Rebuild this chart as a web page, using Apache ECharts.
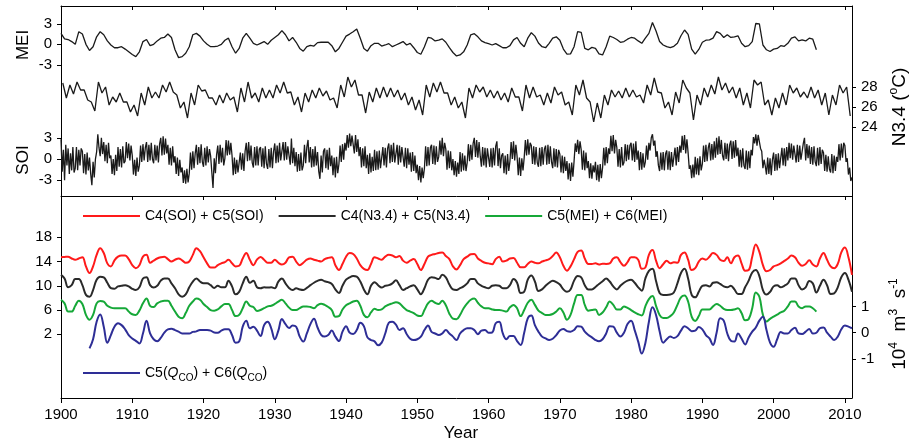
<!DOCTYPE html>
<html>
<head>
<meta charset="utf-8">
<script src="https://cdn.jsdelivr.net/npm/echarts@6/dist/echarts.min.js"></script>
<style>
html,body{margin:0;padding:0;background:#fff}
#chart{width:914px;height:444px}
</style>
</head>
<body>
<div id="chart"></div>
<script>
// ---- x axis ----
const yearMin = 1900, yearMax = 2011, yearStep = 10;

// ---- upper panel: index time series ----
// MEI, half-year steps from 1900.0
const meiStart = 1900, meiStep = 0.5;
const mei = [
1.6,0.8, 0.7,0.4, 0,1.85, 1.5,0, -0.9,-0.35, 1.1,1.85, 1.4,0.5, -0.1,-0.5, -0.5,-0.35, -0.7,-1.1,
-1.5,-1.8, -1.1,0.4, 0.7,-0.2, 0,0.5, 0.9,1.0, 1.5,1.0, -0.8,-1.95, -1.8,-1.3, -0.35,1.4, 1.6,1.2,
0.5,0, -0.35,-0.35, -0.25,0, 0.6,0.9, -0.35,-1.3, -0.6,0.9, 1.6,0.9, 0.15,-0.1, 0.15,0.4, 0,0.6,
1.0,1.4, 2.0,1.4, 0.5,1.0, 0.3,-0.6, -1.0,-0.35, -0.15,-0.25, 0.25,0.3, 0.3,0.3, -0.2,-1.1, -0.6,0.3,
1.2,1.5, 1.85,2.25, 0.9,-0.6, -1.0,-0.2, 0.15,0.15, -0.25,-0.1, 0.1,-0.35, -0.1,0.15, 0.4,-0.1, 0.15,-0.5,
-1.2,-1.45, -0.35,1.0, 0.9,0.5, 0.6,0.8, 0.3,-0.5, -1.2,-1.7, -1.55,-1.1, -0.1,1.4, 1.55,1.1, 0.5,0.25,
0.1,-0.1, 0.1,-0.2, -0.5,-0.5, -0.2,0.65, 1.0,0.15, -0.35,0.9, 1.7,1.2, 0.2,-0.35, -0.5,0.15, 0.9,1.1,
0.6,-0.7, -1.45,-1.4, -0.35,1.85, 1.75,-0.6, -0.8,-0.45, -0.6,-1.4, -1.55,-0.35, 1.2,1.0, 0.7,0.3, 0.4,0.75,
1.0,0.9, 0.5,0.15, 0.9,1.6, 3.2,1.95, 0.4,-0.1, -0.35,-0.5, -0.3,0.15, 1.25,2.1, 1.45,-0.7, -1.45,-0.75,
0.3,0.6, 0.65,0.9, 1.85,1.6, 1.0,1.4, 1.0,1.1, 1.25,0.15, -0.35,-0.2, 0.4,3.05, 3.0,-0.1, -0.8,-1.05,
-0.7,-0.6, -0.2,-0.3, 0.15,0.9, 1.1,0.5, 0.65,0.5, 0.9,0.75, -0.8
];

// Nino 3.4 SST (deg C): seasonal high / low per year, half-year steps from 1900.25
const n34Start = 1900.25, n34Step = 0.5;
const n34 = [
28.4,26.9, 28.2,27.3, 28.5,27.7, 27.7,26.7, 26.5,25.6, 28.5,27.4, 28.0,26.2, 27.0,26.5, 27.4,26.5, 26.5,25.5,
26.2,25.1, 27.4,26.2, 28.0,26.9, 27.5,26.9, 28.2,27.5, 28.5,27.5, 27.2,25.9, 26.5,24.9, 27.4,26.2, 28.2,27.6,
27.7,26.9, 26.9,26.2, 27.2,26.4, 27.4,26.7, 27.0,25.5, 27.9,26.5, 28.5,26.9, 27.4,26.5, 27.9,26.9, 27.7,26.9,
28.2,27.4, 28.5,27.4, 27.5,26.2, 27.0,25.5, 27.4,26.5, 27.7,26.9, 27.9,27.1, 27.6,26.7, 26.9,25.9, 28.2,27.0,
29.0,28.0, 28.7,27.2, 27.2,25.4, 27.5,26.5, 27.9,26.9, 28.0,27.0, 27.9,27.0, 27.7,26.7, 27.4,26.2, 27.0,25.7,
26.7,25.2, 28.2,27.0, 28.4,27.5, 28.5,27.4, 27.4,26.2, 27.0,25.9, 26.5,24.9, 27.9,26.9, 28.2,27.5, 28.0,27.0,
27.7,26.9, 27.6,26.7, 27.4,26.5, 27.9,27.0, 27.0,25.6, 28.2,26.9, 28.0,27.0, 27.2,26.2, 27.4,26.4, 28.0,27.2,
27.5,26.2, 26.5,25.2, 28.2,27.2, 28.7,26.9, 26.5,24.5, 26.4,24.9, 27.2,26.2, 27.7,27.0, 27.6,26.9, 27.9,27.0,
27.7,27.0, 27.2,26.4, 28.2,27.2, 28.9,27.5, 27.4,25.9, 26.5,25.2, 27.5,26.4, 28.7,27.9, 27.4,24.7, 27.2,26.2,
27.9,27.0, 28.2,27.3, 29.0,27.7, 28.4,27.4, 28.0,26.9, 27.9,26.2, 27.4,25.9, 28.7,28.2, 28.5,26.2, 26.7,25.2,
26.9,25.9, 27.4,26.2, 28.2,27.4, 27.9,27.0, 27.5,26.9, 28.0,26.9, 27.7,26.2, 27.4,25.2, 27.2,26.2, 28.2,27.4,
28.0,25.1
];

// SOI, six values per year from 1900.0
const soiStart = 1900, soiStep = 1 / 6;
const soi = [
2.8,-1.8,1.3,-3.0,2.0,-0.9,  1.5,-2.1,0.8,-1.6,1.7,-1.9,  -1.3,1.7,-1.6,1.3,-0.9,1.5,  1.1,-2.0,0.7,-2.2,0.9,-1.6,
0.2,-2.1,-3.7,-0.4,-2.6,0.0,  1.0,3.5,1.6,0.4,3.0,0.7,  2.4,-0.3,2.0,-0.6,2.3,0.1,  0.5,-2.1,0.0,-2.3,0.6,-1.7,
1.7,-1.1,1.4,-1.2,1.8,-0.6,  -0.3,2.4,0.1,2.2,-0.2,1.9,  0.5,-2.2,-0.1,-2.4,0.2,-1.8,  -0.9,1.9,-0.4,2.1,-0.2,1.6,
2.4,-0.4,2.0,-0.2,2.3,0.0,  -0.6,2.0,-0.2,1.9,-0.5,2.1,  3.0,0.5,3.2,0.6,2.9,0.8,  2.0,-0.8,1.6,-0.9,1.8,-0.5,
0.4,-2.1,0.2,-2.4,-0.1,-1.9,  -1.2,-3.4,-1.6,-3.5,-1.4,-3.3,  -2.0,0.9,-1.5,1.1,-1.3,0.8,  2.0,-0.8,1.7,-0.6,2.1,-0.4,
-1.1,1.6,-0.9,1.8,-0.5,1.4,  0.4,-1.9,-4.1,0.1,-2.0,0.6,  1.9,-0.7,2.0,-0.5,1.6,-0.9,  0.1,2.7,0.5,2.6,0.6,2.3,
0.5,-2.3,0.2,-2.1,-0.1,-1.9,  -1.8,0.9,-1.5,0.8,-1.7,1.1,  2.3,-0.3,2.4,-0.2,1.9,-0.5,  -1.2,1.7,-0.9,1.8,-0.9,1.4,
1.7,-1.1,1.5,-1.3,1.8,-0.7,  -1.4,1.4,-1.2,1.6,-1.3,1.1,  2.2,-0.6,1.9,-0.5,2.3,-0.2,  -0.4,2.4,-0.2,2.4,-0.1,1.8,
1.9,-0.8,2.9,-0.6,1.6,-1.0,  1.0,-1.8,0.7,-1.7,0.9,-1.6,  -0.9,2.0,-0.6,1.7,2.7,-0.5,  1.7,-1.2,1.4,-1.1,1.8,-0.9,
1.0,-1.7,-2.8,0.5,-1.9,1.1,  1.5,-1.3,1.3,-1.5,1.6,-1.0,  0.5,-2.3,0.2,-2.6,0.3,-2.0,  -0.7,1.9,-0.4,2.1,-0.1,2.3,
1.2,3.4,1.6,3.6,1.8,3.3,  3.2,0.8,3.4,1.0,2.8,0.4,  1.7,-1.2,1.5,-1.0,1.8,-1.3,  0.6,-2.1,0.8,-1.9,0.3,-1.7,
1.3,-1.6,1.1,-1.5,1.2,-1.3,  -1.1,1.7,-0.9,1.6,-1.2,1.5,  2.2,-0.6,2.0,-0.4,2.3,-0.5,  -0.7,2.0,-0.8,1.9,-0.5,1.7,
1.7,-1.1,1.6,-1.3,1.5,-0.8,  0.9,-1.8,1.0,-1.7,0.5,-2.0,  -0.8,-3.0,-1.0,-3.3,-1.2,-2.7,  -1.3,1.8,-1.0,1.7,-0.9,1.6,
2.0,-0.7,1.9,-0.8,1.8,-0.4,  0.3,2.6,0.6,3.0,0.4,2.3,  1.4,-1.5,1.2,-1.3,1.1,-1.6,  0.0,-2.3,-0.3,-2.5,-0.5,-2.1,
1.0,-1.8,0.8,-1.6,0.5,-1.7,  -0.5,2.1,-0.3,2.0,-0.1,2.2,  3.0,0.3,2.7,0.2,2.4,0.4,  -1.1,1.7,-0.9,1.6,-1.2,1.5,
1.7,-1.1,1.5,-1.2,1.6,-0.9,  1.8,2.5,-1.0,1.5,-1.3,0.5,  0.8,-2.0,0.5,-2.2,0.7,-1.7,  -0.3,2.4,0.0,2.5,-0.2,2.0,
0.4,-2.3,0.2,-2.4,0.1,-1.6,  0.2,2.7,0.5,2.8,0.6,2.3,  1.9,-0.7,1.8,-0.8,1.7,-0.5,  -1.1,1.6,-1.0,1.7,-0.8,1.4,
1.9,-0.8,2.0,-0.7,1.8,-0.4,  -1.3,1.5,-1.1,1.4,-1.2,1.3,  0.7,-1.9,0.5,-2.0,0.3,-1.7,  -0.3,-2.9,-0.6,-3.1,-0.5,-2.5,
-0.3,2.2,1.0,2.7,0.7,2.5,  1.3,-1.5,1.2,-1.6,0.9,-1.3,  -0.3,-2.7,-0.6,-2.8,-0.9,-1.9,  -0.4,-3.0,-0.8,-3.2,-0.7,-2.7,
-1.2,1.6,-0.9,1.7,-0.6,1.5,  0.7,3.3,1.1,3.4,0.8,2.7,  1.6,-1.1,1.4,-1.2,1.7,-0.9,  -0.5,2.1,-0.3,2.0,-0.1,1.9,
2.3,-0.2,2.2,-0.4,2.5,-0.1,  1.2,-1.6,1.0,-1.5,0.8,-1.2,  -0.4,1.9,-0.1,2.3,1.2,3.0,  3.5,1.9,2.6,0.3,1.1,-0.9,
-1.7,0.9,-1.5,1.0,-1.6,0.7,  1.2,-1.5,1.1,-1.6,1.0,-1.1,  -1.1,1.6,-0.9,1.7,-0.4,1.9,  0.9,3.3,1.3,3.4,0.8,2.8,
0.9,-1.4,-0.9,-2.7,-0.8,-2.6,  0.3,-2.2,0.1,-2.3,0.4,-1.6,  -0.7,1.9,-0.4,2.0,-0.3,1.6,  2.3,-0.2,2.1,-0.1,2.5,0.2,
3.0,0.6,3.2,0.7,2.7,0.5,  -0.2,2.3,0.0,2.2,-0.3,2.0,  2.6,0.0,2.5,0.2,2.7,0.4,  1.6,-1.1,1.3,-1.2,1.5,-0.9,
-1.4,1.2,-1.5,1.1,-1.3,1.3,  0.5,3.1,2.2,3.5,1.9,3.4,  3.5,1.5,1.1,-1.3,-0.1,-1.0,  -2.2,0.2,-2.1,0.1,-2.3,-0.1,
0.9,-1.7,0.7,-1.6,0.8,-1.3,  -1.1,1.6,-0.9,1.5,-1.0,1.7,  -0.2,2.3,0.1,2.2,-0.1,1.9,  2.1,-0.5,2.0,-0.4,1.9,-0.1,
-0.1,2.2,3.0,-0.2,2.1,0.1,  1.9,-0.7,1.7,-0.8,1.8,-0.4,  -1.0,1.6,-0.9,1.7,-0.7,1.3,  0.9,-1.7,0.6,-1.8,0.4,-1.4,
-1.9,0.7,-2.0,0.5,-1.7,0.3,  -0.4,2.1,-0.2,2.2,0.2,2.3,  1.9,-0.4,0.1,-2.2,-1.2,-3.1,  -2.6
];

// ---- lower panel: reconstructed low-frequency components ----
const compStart = 1900, compStep = 0.5;
const soiComp = [
14.7,14.75, 14.8,14.5, 14.3,14.5, 14.7,13.2, 12.1,13.2, 15.1,16.2, 15.4,13.7, 13.2,14.2, 14.8,15.0, 15.0,14.4,
13.4,12.9, 13.4,14.8, 15.1,13.8, 14.15,14.5, 14.7,14.8, 14.4,14.0, 14.3,14.5, 14.2,13.8, 14.0,15.1, 16.2,15.7,
14.7,13.7, 13.0,13.0, 13.4,13.7, 13.9,14.3, 13.7,13.2, 13.3,14.5, 15.4,14.3, 13.4,14.3, 14.75,14.3, 13.8,13.8,
14.3,13.8, 13.5,13.8, 14.7,14.8, 14.0,13.4, 13.8,14.3, 14.5,14.3, 14.15,14.0, 14.4,14.6, 14.7,13.4, 12.6,13.6,
14.8,15.4, 15.25,14.5, 13.4,12.8, 12.6,13.6, 14.7,14.5, 14.3,14.8, 15.1,15.0, 14.7,14.9, 14.15,13.8, 14.15,14.4,
13.6,12.6, 13.6,14.8, 15.1,15.25, 15.4,15.5, 14.9,14.4, 13.2,12.7, 13.4,14.4, 14.8,15.2, 15.25,14.5, 14.1,13.8,
13.7,13.55, 14.4,14.8, 14.0,14.15, 14.5,14.6, 13.8,13.05, 13.05,13.6, 14.0,13.8, 13.7,14.0, 14.2,14.4, 14.9,15.5,
14.7,13.3, 12.5,13.2, 14.4,15.6, 15.8,14.5, 13.6,13.6, 13.7,13.5, 13.65,13.6, 13.7,14.5, 14.7,13.9, 13.3,13.9,
14.7,14.7, 14.3,12.8, 13.0,15.1, 15.9,14.15, 12.9,13.55, 14.15,13.7, 13.9,13.8, 15.1,15.5, 14.3,12.6, 12.9,14.0,
14.5,14.3, 14.8,15.4, 15.1,14.3, 14.1,14.7, 13.7,14.7, 15.0,13.7, 12.5,12.6, 14.8,16.8, 15.6,13.4, 12.4,12.6,
13.2,13.4, 13.7,14.1, 14.5,15.0, 14.7,13.8, 13.3,13.6, 14.2,13.5, 13.2,14.5, 15.4,14.3, 13.2,12.9, 13.6,15.5,
16.3,14.7, 11.8
];
const n34Comp = [
11.8,11.2, 9.75,10.1, 11.1,11.1, 10.1,8.5, 8.2,9.3, 11.0,11.5, 11.4,10.5, 9.6,9.5, 9.9,10.0, 10.1,9.9,
9.5,9.3, 9.75,11.2, 11.4,10.1, 9.7,10.0, 10.85,11.2, 11.2,10.4, 9.6,8.6, 8.2,8.6, 9.75,10.7, 11.2,10.7,
10.4,10.4, 10.1,9.65, 10.0,9.75, 9.75,10.85, 9.9,8.6, 9.0,10.4, 11.5,10.5, 10.85,9.75, 9.6,9.75, 9.7,9.75,
9.6,10.7, 11.2,10.4, 9.65,9.3, 9.6,9.4, 9.3,9.65, 10.1,10.5, 10.8,11.0, 10.75,10.6, 10.3,9.4, 8.8,10.0,
11.0,11.4, 11.6,11.5, 10.7,9.4, 8.6,10.0, 10.6,10.1, 9.7,10.0, 10.1,10.4, 10.9,10.1, 9.3,9.6, 9.9,10.1,
9.4,8.6, 9.6,11.0, 11.4,11.3, 11.1,11.8, 11.4,10.2, 9.4,9.3, 9.6,9.9, 10.4,11.1, 11.1,10.4, 10.0,9.75,
9.6,10.0, 10.1,10.0, 9.6,9.6, 10.1,11.1, 10.5,8.8, 9.0,11.0, 11.7,10.7, 9.15,9.4, 10.0,10.5, 10.85,10.6,
10.2,9.4, 9.0,9.4, 10.85,11.6, 11.4,10.1, 9.4,9.4, 9.8,10.3, 10.75,11.2, 10.7,9.9, 9.4,10.0, 10.5,10.85,
11.0,10.5, 9.75,9.2, 11.2,12.45, 12.8,10.8, 8.8,8.5, 8.5,8.55, 8.9,10.4, 12.1,12.8, 11.2,8.5, 8.1,9.0,
10.0,10.1, 9.9,10.5, 10.6,10.3, 9.9,9.75, 10.0,9.4, 8.65,8.65, 9.75,10.85, 12.2,12.6, 11.6,9.3, 8.55,9.0,
9.9,10.1, 9.75,10.0, 10.4,11.2, 11.2,10.1, 9.4,9.75, 10.8,10.4, 8.9,10.0, 11.0,10.1, 8.65,8.75, 9.75,11.4,
12.1,11.0, 9.0
];
const meiComp = [
7.7,7.1, 5.75,5.75, 6.7,7.55, 7.0,5.2, 4.4,5.2, 7.1,7.5, 7.4,6.7, 6.4,6.3, 6.3,6.3, 6.3,5.75,
5.3,5.2, 5.9,7.1, 7.9,6.7, 6.5,7.1, 7.4,7.55, 7.55,6.7, 5.75,4.9, 4.65,5.5, 6.7,7.4, 7.9,7.7,
7.0,6.5, 6.0,5.9, 6.1,6.6, 7.0,7.0, 6.0,5.0, 5.2,6.3, 7.4,6.7, 6.5,5.85, 6.0,6.3, 6.6,6.7,
7.0,7.4, 7.7,7.1, 6.4,6.0, 6.0,6.3, 6.6,6.6, 6.5,6.3, 6.8,7.05, 6.85,6.5, 6.0,4.9, 5.0,6.1,
6.8,7.1, 7.4,7.55, 6.7,5.2, 4.8,5.6, 6.2,6.0, 6.1,6.6, 6.9,7.1, 7.3,7.1, 6.5,6.0, 5.75,5.5,
5.1,5.0, 6.0,7.1, 7.55,7.2, 7.0,7.55, 6.8,5.4, 4.6,4.5, 5.2,6.3, 7.1,7.7, 7.9,7.2, 6.6,6.3,
6.3,6.1, 6.0,6.0, 5.9,5.75, 6.45,6.85, 6.3,5.0, 6.0,7.2, 7.7,6.85, 5.9,5.5, 5.2,5.2, 5.35,5.75,
6.3,5.6, 4.4,5.2, 7.1,8.5, 8.5,6.85, 5.9,6.0, 6.1,5.2, 5.6,6.45, 7.4,6.85, 6.1,6.1, 6.6,6.35,
6.0,5.6, 5.3,5.1, 6.6,7.8, 8.3,6.7, 5.2,4.7, 4.7,5.0, 5.6,6.85, 8.1,8.4, 7.4,4.9, 4.2,5.0,
6.1,6.1, 6.1,6.6, 7.0,6.7, 6.2,6.0, 6.0,6.1, 6.3,5.5, 4.3,4.5, 6.3,8.9, 8.2,5.2, 4.1,4.55,
4.9,5.25, 5.6,5.9, 6.6,7.4, 7.4,6.6, 6.3,6.6, 6.6,6.3, 5.75
];
// discharge components (10^4 m^3 s^-1), half-year steps from 1904.0
const qStart = 1904, qStep = 0.5;
const qComp = [
-0.6,-0.25, 0.42,0.7, 0.23,-0.38, -0.09,0.23, 0.36,0.29, 0.13,-0.09, -0.22,-0.31, -0.41,-0.03, 0.46,-0.03, -0.25,-0.33,
-0.2,0, 0.13,0.15, 0.1,0.04, -0.03,-0.03, -0.03,0.03, 0.05,0.1, 0.1,0.1, 0.08,0.01, 0,0.08, 0.13,0.13,
-0.09,-0.38, -0.34,0.23, 0.46,0.17, 0.23,0.08, -0.13,0.29, 0.42,0.17, -0.25,0.08, 0.52,0.33, 0.18,0.28, 0.23,-0.15,
-0.34,-0.03, 0.33,0.53, 0.2,-0.08, -0.15,-0.09, 0.08,-0.15, -0.32,0.04, 0.25,0, -0.05,0.1, 0.38,0.25, -0.18,-0.28,
-0.33,-0.48, -0.38,-0.03, 0.38,0.42, 0.31,0.1, 0.17,-0.05, -0.23,-0.28, -0.25,-0.15, 0.1,0.28, 0.03,-0.03, -0.09,-0.03,
0.1,-0.03, -0.15,-0.28, -0.03,0.1, 0.17,0.17, 0.1,-0.06, 0.08,0.1, 0,0.01, 0.36,0.42, -0.03,-0.25, -0.13,-0.13,
-0.32,-0.47, 0,0.55, 0.66,0.29, 0.04,-0.15, -0.22,-0.28, -0.23,-0.09, 0.08,0.14, 0.06,0.04, 0.1,0.25, 0.23,0.04,
-0.09,-0.18, -0.28,-0.33, -0.25,-0.03, 0.25,0.23, 0,-0.15, 0,0.33, 0.46,0.1, -0.34,-0.8, -0.4,0.42, 0.97,0.68,
0.06,-0.38, -0.25,-0.15, -0.2,-0.13, 0.08,0.25, 0.17,0.06, 0.08,0.22, 0.13,-0.09, -0.22,-0.47, 0,0.55, 0.46,-0.03,
-0.31,-0.34, -0.03,-0.22, -0.45,-0.18, 0.04,0.2, 0.46,0.61, 0.1,-0.38, -0.54,-0.25, 0.03,-0.03, -0.03,0.1, 0.19,-0.03,
-0.05,0.04, 0.14,-0.03, 0,0.17, 0.2,0, -0.15,-0.28, -0.15,0.13, 0.28,0.23, 0.17
];

// ---- tick values shown on each vertical axis ----
const meiTicks = [-3, 0, 3];
const soiTicks = [-3, 0, 3];
const n34Ticks = [24, 26, 28];
const compTicks = [2, 6, 10, 14, 18];
const qTicks = [-1, 0, 1];

const names = {
  soi: 'C4(SOI) + C5(SOI)',
  n34: 'C4(N3.4) + C5(N3.4)',
  mei: 'C5(MEI) + C6(MEI)',
  q: 'C5(Q_CO) + C6(Q_CO)'
};

function toPairs(start, step, vals) {
  return vals.map((v, i) => [Math.round((start + i * step) * 1000) / 1000, v]);
}

const FONT = 'Liberation Sans, Arial, Helvetica, sans-serif';
const INK = '#000';

function xAxisBase(grid, pos, extra) {
  return Object.assign({
    type: 'value', gridIndex: grid, position: pos,
    min: yearMin, max: yearMax, interval: yearStep,
    axisLine: { show: true, onZero: false, lineStyle: { color: INK, width: 1 } },
    axisTick: { show: true, inside: false, length: 4, lineStyle: { color: INK } },
    axisLabel: { show: false },
    splitLine: { show: false }
  }, extra || {});
}

function yAxisBase(grid, pos, min, max, ticks, showLine, extra) {
  return Object.assign({
    type: 'value', gridIndex: grid, position: pos, min: min, max: max,
    axisLine: { show: showLine, onZero: false, lineStyle: { color: INK, width: 1 } },
    axisTick: { show: true, inside: false, length: 4, customValues: ticks, lineStyle: { color: INK } },
    axisLabel: { show: true, customValues: ticks, color: INK, fontSize: 15, fontFamily: FONT, margin: 9 },
    splitLine: { show: false }
  }, extra || {});
}

const topLine = { color: '#1a1a1a', width: 1.3 };

const option = {
  animation: false,
  backgroundColor: '#fff',
  textStyle: { fontFamily: FONT },
  grid: [
    { left: 61, top: 6, width: 791, height: 190 },
    { left: 61, top: 196, width: 791, height: 202 }
  ],
  xAxis: [
    xAxisBase(0, 'bottom'),
    xAxisBase(0, 'top', { axisTick: { show: true, inside: true, length: 4, lineStyle: { color: INK } } }),
    xAxisBase(1, 'bottom', {
      axisTick: { show: true, inside: false, length: 5, lineStyle: { color: INK } },
      axisLabel: {
        show: true, color: INK, fontSize: 15, fontFamily: FONT, margin: 9,
        formatter: function (v) { return String(v); }
      }
    })
  ],
  yAxis: [
    yAxisBase(0, 'left', -22.21, 5.61, meiTicks, true),
    yAxisBase(0, 'left', -5.23, 21.64, soiTicks, false),
    yAxisBase(0, 'right', 17.1, 36.1, n34Ticks, true),
    yAxisBase(1, 'left', -8.51, 24.81, compTicks, true),
    yAxisBase(1, 'right', -2.497, 5.227, qTicks, true)
  ],
  legend: [
    {
      left: 83, top: 209, padding: 0, itemGap: 15,
      itemWidth: 57, itemHeight: 2, icon: 'rect',
      textStyle: { color: INK, fontSize: 14, fontFamily: FONT },
      data: [names.soi, names.n34, names.mei]
    },
    {
      left: 83, top: 363, padding: 0,
      itemWidth: 57, itemHeight: 2, icon: 'rect',
      formatter: function () { return 'C5({q|Q}{s|CO}) + C6({q|Q}{s|CO})'; },
      textStyle: {
        color: INK, fontSize: 14, fontFamily: FONT, lineHeight: 20,
        rich: {
          q: { fontStyle: 'italic', fontSize: 14, fontFamily: FONT, color: INK, lineHeight: 20 },
          s: { fontSize: 10, fontFamily: FONT, color: INK, lineHeight: 10, verticalAlign: 'bottom' }
        }
      },
      data: [names.q]
    }
  ],
  series: [
    { name: 'MEI', type: 'line', xAxisIndex: 0, yAxisIndex: 0, showSymbol: false, lineStyle: topLine, itemStyle: { color: '#1a1a1a' }, data: toPairs(meiStart, meiStep, mei) },
    { name: 'N3.4', type: 'line', xAxisIndex: 0, yAxisIndex: 2, showSymbol: false, lineStyle: topLine, itemStyle: { color: '#1a1a1a' }, data: toPairs(n34Start, n34Step, n34) },
    { name: 'SOI', type: 'line', xAxisIndex: 0, yAxisIndex: 1, showSymbol: false, lineStyle: topLine, itemStyle: { color: '#1a1a1a' }, data: toPairs(soiStart, soiStep, soi) },
    { name: names.soi, type: 'line', xAxisIndex: 2, yAxisIndex: 3, showSymbol: false, smooth: 0.4, lineStyle: { color: '#ff1a1a', width: 2 }, itemStyle: { color: '#ff1a1a' }, data: toPairs(compStart, compStep, soiComp) },
    { name: names.n34, type: 'line', xAxisIndex: 2, yAxisIndex: 3, showSymbol: false, smooth: 0.4, lineStyle: { color: '#2a2a2a', width: 2 }, itemStyle: { color: '#2a2a2a' }, data: toPairs(compStart, compStep, n34Comp) },
    { name: names.mei, type: 'line', xAxisIndex: 2, yAxisIndex: 3, showSymbol: false, smooth: 0.4, lineStyle: { color: '#16a838', width: 2 }, itemStyle: { color: '#16a838' }, data: toPairs(compStart, compStep, meiComp) },
    { name: names.q, type: 'line', xAxisIndex: 2, yAxisIndex: 4, showSymbol: false, smooth: 0.4, lineStyle: { color: '#2e2e96', width: 2 }, itemStyle: { color: '#2e2e96' }, data: toPairs(qStart, qStep, qComp) }
  ],
  graphic: [
    { type: 'text', x: 23, y: 45, rotation: Math.PI / 2,
      style: { text: 'MEI', fill: INK, fontSize: 17, fontFamily: FONT, textAlign: 'center', textVerticalAlign: 'middle' } },
    { type: 'text', x: 23, y: 160, rotation: Math.PI / 2,
      style: { text: 'SOI', fill: INK, fontSize: 17, fontFamily: FONT, textAlign: 'center', textVerticalAlign: 'middle' } },
    { type: 'text', x: 900, y: 107, rotation: Math.PI / 2,
      style: {
        text: '{a|N3.4 (}{p|o}{a|C)}', fill: INK, fontFamily: FONT, textAlign: 'center', textVerticalAlign: 'middle',
        rich: {
          a: { fontSize: 19, fontFamily: FONT, fill: INK, lineHeight: 24, verticalAlign: 'middle' },
          p: { fontSize: 12, fontFamily: FONT, fill: INK, lineHeight: 13, verticalAlign: 'top' }
        }
      } },
    { type: 'text', x: 900, y: 324, rotation: Math.PI / 2,
      style: {
        text: '{a|10}{p|4}{a|  m}{p|3}{a|  s}{p|-1}', fill: INK, fontFamily: FONT, textAlign: 'center', textVerticalAlign: 'middle',
        rich: {
          a: { fontSize: 19, fontFamily: FONT, fill: INK, lineHeight: 24, verticalAlign: 'middle' },
          p: { fontSize: 12, fontFamily: FONT, fill: INK, lineHeight: 13, verticalAlign: 'top' }
        }
      } },
    { type: 'text', x: 461, y: 433,
      style: { text: 'Year', fill: INK, fontSize: 17, fontFamily: FONT, textAlign: 'center', textVerticalAlign: 'middle' } }
  ]
};

const chart = echarts.init(document.getElementById('chart'), null, { renderer: 'canvas' });
chart.setOption(option);
</script>
</body>
</html>
